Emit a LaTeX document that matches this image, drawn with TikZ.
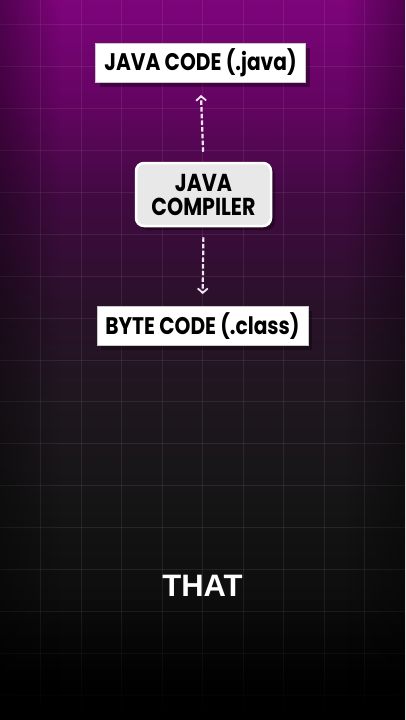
\documentclass[tikz,border=0pt]{standalone}
\usepackage{fontspec}
\setmainfont{Poppins}
\newfontfamily\thatfont{Liberation Sans}
\usetikzlibrary{arrows.meta,shadows,fadings}
\definecolor{bgA}{RGB}{3,3,3}
\definecolor{bgB}{RGB}{12,12,12}
\definecolor{bgC}{RGB}{22,21,22}
\definecolor{bgD}{RGB}{30,23,30}
\definecolor{bgE}{RGB}{42,17,42}
\definecolor{bgF}{RGB}{64,10,64}
\definecolor{bgG}{RGB}{100,4,98}
\definecolor{bgH}{RGB}{126,4,124}
\definecolor{boxgrey}{RGB}{232,232,232}
\definecolor{boxedge}{RGB}{200,200,200}
\definecolor{arrowc}{RGB}{240,226,240}
\pgfdeclareverticalshading{bgshade}{100bp}{%
  color(0bp)=(bgA); color(25bp)=(bgA); color(32bp)=(bgB); color(40.5bp)=(bgC); color(47bp)=(bgD);
  color(54bp)=(bgE); color(61bp)=(bgF); color(68bp)=(bgG); color(75bp)=(bgH); color(100bp)=(bgH)}
\tikzfading[name=fadeup, top color=transparent!100, bottom color=transparent!0]
\tikzfading[name=fadeleft, left color=transparent!0, right color=transparent!100]
\tikzfading[name=faderight, left color=transparent!100, right color=transparent!0]
\newcommand{\sq}[1]{\scalebox{0.84}[1]{#1}}
\tikzset{
  codebox/.style={rectangle, fill=white, draw=boxedge, line width=0.8pt,
    minimum height=39pt, inner sep=0pt, font=\fontsize{24}{26}\selectfont\bfseries,
    text=black, drop shadow={shadow xshift=4pt, shadow yshift=-4pt, opacity=0.35, fill=black}},
  compbox/.style={rectangle, rounded corners=8pt, fill=boxgrey, draw=white, line width=2.5pt,
    minimum width=135pt, minimum height=63pt, inner sep=0pt, align=center,
    font=\fontsize{24.5}{24}\selectfont\bfseries, text=black,
    drop shadow={shadow xshift=4pt, shadow yshift=-4pt, opacity=0.35, fill=black}},
  flow/.style={draw=arrowc, line width=2.2pt, dash pattern=on 4.5pt off 2.2pt,
    -{Straight Barb[length=4.5pt,width=10pt,line width=1.8pt]}},
  gridline/.style={white, opacity=0.08, line width=1pt},
  thattext/.style={text=white, font=\thatfont\fontsize{31}{31}\selectfont\bfseries}
}
\begin{document}
\begin{tikzpicture}[x=1pt,y=-1pt]
\useasboundingbox (0,0) rectangle (405,720);
\shade[shading=bgshade] (0,0) rectangle (405,720);
\foreach \i in {1,...,9} \draw[gridline] (40.5*\i,0) -- (40.5*\i,720);
\foreach \j in {0,...,16} \draw[gridline] (0,24.8+41.9*\j) -- (405,24.8+41.9*\j);
\fill[black, path fading=fadeup] (0,600) rectangle (405,720);
\fill[black, opacity=0.35, path fading=fadeleft] (0,0) rectangle (60,720);
\fill[black, opacity=0.35, path fading=faderight] (345,0) rectangle (405,720);

\node[codebox, minimum width=210pt] (java) at (200.5,63) {\sq{JAVA CODE (.java)}};
\node[compbox] (comp) at (203.5,194.5) {\sq{JAVA}\\\sq{COMPILER}};
\node[codebox, minimum width=211pt] (byte) at (202.5,326) {\sq{BYTE CODE (.class)}};
\node[thattext] (that) at (202.5,586) {THAT};

\draw[flow, shorten <=10pt, shorten >=12pt] (comp.north) -- (java.south);
\draw[flow, shorten <=10pt, shorten >=12pt] (comp.south) -- (byte.north);
\end{tikzpicture}
\end{document}
